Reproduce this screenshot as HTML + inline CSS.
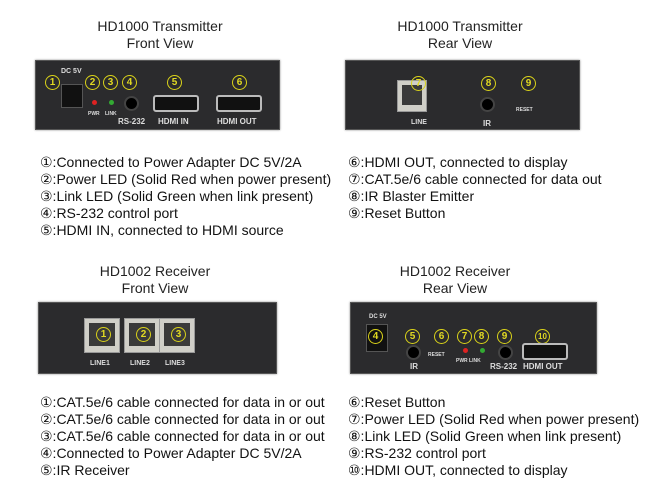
<!DOCTYPE html>
<html><head><meta charset="utf-8"><style>
body{margin:0;width:660px;height:500px;background:#fff;position:relative;overflow:hidden;font-family:"Liberation Sans","DejaVu Sans",sans-serif;color:#111}
.a{position:absolute}
.t{position:absolute;font-size:14px;color:#222;line-height:17px;text-align:center}
.l{position:absolute;font-size:14px;line-height:17px;white-space:nowrap;color:#111}
.box{position:absolute;background:#2b2b2d;border:1px solid #555;box-shadow:0 0 2px #888}
.c{position:absolute;width:13px;height:13px;border:1.5px solid #d9d21a;border-radius:50%;color:#e2da22;font-size:10px;line-height:13px;text-align:center;font-weight:bold}
.w{position:absolute;color:#ddd;font-size:7px;font-weight:bold;white-space:nowrap}
.hd{position:absolute;width:42px;height:13px;border:2px solid #bbb;border-radius:3px;background:#111}
.rj{position:absolute;background:#d0cfc8;border:1px solid #999}
.rj i{position:absolute;left:4px;top:4px;right:4px;bottom:6px;background:#3a3a3a}
.jack{position:absolute;width:11px;height:11px;border-radius:50%;background:#000;border:2px solid #444}
.led{position:absolute;width:5px;height:5px;border-radius:50%}
</style></head><body>
<div class="t" style="left:60px;top:18px;width:200px">HD1000 Transmitter<br>Front View</div>
<div class="t" style="left:360px;top:18px;width:200px">HD1000 Transmitter<br>Rear View</div>
<div class="t" style="left:55px;top:263px;width:200px">HD1002 Receiver<br>Front View</div>
<div class="t" style="left:355px;top:263px;width:200px">HD1002 Receiver<br>Rear View</div>

<!-- TX front -->
<div class="box" style="left:35px;top:60px;width:243px;height:68px"></div>
<div class="w" style="left:61px;top:68px;font-size:7px">DC 5V</div>
<div class="a" style="left:61px;top:84px;width:20px;height:22px;background:#111;border:1px solid #555"></div>
<div class="c" style="left:45px;top:75px">1</div>
<div class="c" style="left:85px;top:75px">2</div>
<div class="c" style="left:103px;top:75px">3</div>
<div class="c" style="left:122px;top:75px">4</div>
<div class="c" style="left:167px;top:75px">5</div>
<div class="c" style="left:232px;top:75px">6</div>
<div class="led" style="left:92px;top:100px;background:#d22"></div>
<div class="led" style="left:109px;top:100px;background:#3a3"></div>
<div class="jack" style="left:124px;top:96px"></div>
<div class="hd" style="left:153px;top:95px"></div>
<div class="hd" style="left:216px;top:95px"></div>
<div class="w" style="left:88px;top:111px;font-size:5px">PWR</div>
<div class="w" style="left:105px;top:111px;font-size:5px">LINK</div>
<div class="w" style="left:118px;top:117px;font-size:8px">RS-232</div>
<div class="w" style="left:158px;top:117px;font-size:8px">HDMI IN</div>
<div class="w" style="left:217px;top:117px;font-size:8px">HDMI OUT</div>

<!-- TX rear -->
<div class="box" style="left:345px;top:60px;width:233px;height:68px"></div>
<div class="rj" style="left:397px;top:80px;width:28px;height:30px"><i></i></div>
<div class="c" style="left:411px;top:76px">7</div>
<div class="c" style="left:481px;top:76px">8</div>
<div class="c" style="left:521px;top:76px">9</div>
<div class="jack" style="left:480px;top:97px"></div>
<div class="w" style="left:411px;top:119px;font-size:7px">LINE</div>
<div class="w" style="left:483px;top:119px;font-size:8px">IR</div>
<div class="w" style="left:516px;top:107px;font-size:5px">RESET</div>

<div class="l" style="left:40px;top:154px">①:Connected to Power Adapter DC 5V/2A<br>②:Power LED (Solid Red when power present)<br>③:Link LED (Solid Green when link present)<br>④:RS-232 control port<br>⑤:HDMI IN, connected to HDMI source</div>
<div class="l" style="left:348px;top:154px">⑥:HDMI OUT, connected to display<br>⑦:CAT.5e/6 cable connected for data out<br>⑧:IR Blaster Emitter<br>⑨:Reset Button</div>

<!-- RX front -->
<div class="box" style="left:38px;top:302px;width:237px;height:70px"></div>
<div class="rj" style="left:84px;top:318px;width:34px;height:33px"><i></i></div>
<div class="rj" style="left:124px;top:318px;width:34px;height:33px"><i></i></div>
<div class="rj" style="left:159px;top:318px;width:34px;height:33px"><i></i></div>
<div class="c" style="left:96px;top:327px">1</div>
<div class="c" style="left:136px;top:327px">2</div>
<div class="c" style="left:171px;top:327px">3</div>
<div class="w" style="left:90px;top:360px;font-size:7px">LINE1</div>
<div class="w" style="left:130px;top:360px;font-size:7px">LINE2</div>
<div class="w" style="left:165px;top:360px;font-size:7px">LINE3</div>

<!-- RX rear -->
<div class="box" style="left:350px;top:302px;width:245px;height:70px"></div>
<div class="w" style="left:369px;top:314px;font-size:6px">DC 5V</div>
<div class="a" style="left:366px;top:324px;width:20px;height:26px;background:#111;border:1px solid #555"></div>
<div class="c" style="left:368px;top:329px">4</div>
<div class="c" style="left:405px;top:329px">5</div>
<div class="c" style="left:434px;top:329px">6</div>
<div class="c" style="left:457px;top:329px">7</div>
<div class="c" style="left:474px;top:329px">8</div>
<div class="c" style="left:497px;top:329px">9</div>
<div class="c" style="left:535px;top:329px;font-size:8px">10</div>
<div class="jack" style="left:406px;top:345px"></div>
<div class="led" style="left:463px;top:348px;background:#d22"></div>
<div class="led" style="left:480px;top:348px;background:#3a3"></div>
<div class="jack" style="left:498px;top:345px"></div>
<div class="hd" style="left:522px;top:343px"></div>
<div class="w" style="left:410px;top:362px;font-size:8px">IR</div>
<div class="w" style="left:428px;top:352px;font-size:5px">RESET</div>
<div class="w" style="left:456px;top:358px;font-size:5px">PWR LINK</div>
<div class="w" style="left:490px;top:362px;font-size:8px">RS-232</div>
<div class="w" style="left:523px;top:362px;font-size:8px">HDMI OUT</div>

<div class="l" style="left:40px;top:394px">①:CAT.5e/6 cable connected for data in or out<br>②:CAT.5e/6 cable connected for data in or out<br>③:CAT.5e/6 cable connected for data in or out<br>④:Connected to Power Adapter DC 5V/2A<br>⑤:IR Receiver</div>
<div class="l" style="left:348px;top:394px">⑥:Reset Button<br>⑦:Power LED (Solid Red when power present)<br>⑧:Link LED (Solid Green when link present)<br>⑨:RS-232 control port<br>⑩:HDMI OUT, connected to display</div>
</body></html>
